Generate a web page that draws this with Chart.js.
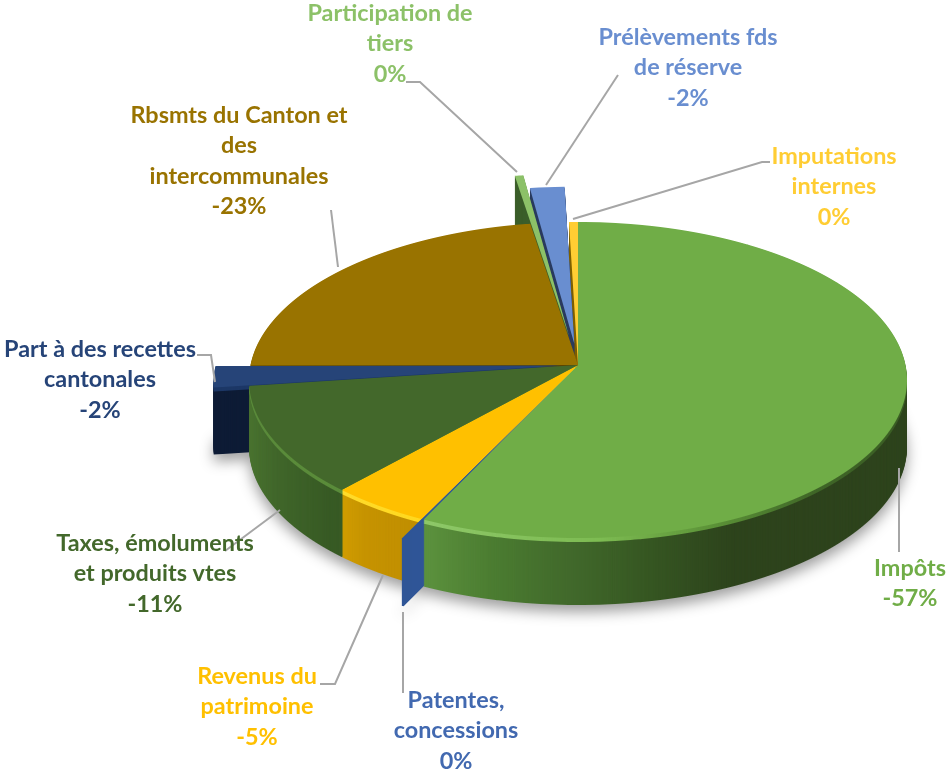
<!DOCTYPE html>
<html lang="fr">
<head>
<meta charset="utf-8">
<style>
	html, body { margin: 0; padding: 0; background: #fff; }
	canvas { display: block; }
</style>
<script src="https://cdn.jsdelivr.net/npm/chart.js@4"></script>
</head>
<body>
<canvas id="chart" width="948" height="769"></canvas>
<script>
const CATEGORIES = ["Impôts", "Patentes, concessions", "Revenus du patrimoine", "Taxes, émoluments et produits vtes", "Part à des recettes cantonales", "Rbsmts du Canton et des intercommunales", "Participation de tiers", "Prélèvements fds de réserve", "Imputations internes"];
const VALUES = [57.1, 0.1, 4.5, 11.2, 2.05, 22.5, 0.4, 1.67, 0.48];
const PERCENT_LABELS = ["-57%", "0%", "-5%", "-11%", "-2%", "-23%", "0%", "-2%", "0%"];
const LABEL_LINES = [
	["Impôts"],
	["Patentes,", "concessions"],
	["Revenus du", "patrimoine"],
	["Taxes, émoluments", "et produits vtes"],
	["Part à des recettes", "cantonales"],
	["Rbsmts du Canton et", "des", "intercommunales"],
	["Participation de", "tiers"],
	["Prélèvements fds", "de réserve"],
	["Imputations", "internes"],
];

// how far each slice's rim is pulled out of the pie, before perspective
const EXPLODE = [0, 38, 0, 0, 35, 0, 126, 91, 0];

const FACE_COLORS = ["#70ad47", "#2f5597", "#ffc000", "#43682b", "#264478", "#997300", "#8cc168", "#698ed0", "#ffcd33"];
const TEXT_COLORS = ["#70ad47", "#4269b0", "#ffc000", "#43682b", "#264478", "#997300", "#8cc168", "#698ed0", "#ffcd33"];
const SIDE_COLORS = [
	[[425, "#5f9640"], [500, "#4b7c31"], [570, "#41692b"], [640, "#365722"], [720, "#2d431c"], [910, "#2d431c"]],
	[[400, "#2f5597"], [430, "#2f5597"]],
	[[340, "#d9a400"], [380, "#c69300"], [430, "#c08e00"]],
	[[250, "#4a7430"], [290, "#40662a"], [345, "#375a24"]],
	[[210, "#0d1b35"], [260, "#0d1b35"]],
	[[250, "#5c4500"], [530, "#5c4500"]],
	[[510, "#3b5e2a"], [530, "#3b5e2a"]],
	[[530, "#2a3b5e"], [570, "#2a3b5e"]],
	[[565, "#7f6000"], [580, "#7f6000"]],
];
const BEVEL_COLORS = [
	[[425, "#8fc96a"], [600, "#7dbb52"], [700, "#5c9338"], [800, "#3f6627"], [910, "#3a5c24"]],
	[[400, "#2f5597"], [430, "#2f5597"]],
	[[340, "#ffdc2e"], [430, "#ffd81f"]],
	[[250, "#5a8a3b"], [345, "#5a8c3a"]],
	[[210, "#1c3766"], [260, "#1c3766"]],
	[[250, "#5c4500"], [530, "#5c4500"]],
	[[510, "#3b5e2a"], [530, "#3b5e2a"]],
	[[530, "#2a3b5e"], [570, "#2a3b5e"]],
	[[565, "#7f6000"], [580, "#7f6000"]],
];

const LABEL_X = [910, 456, 257, 155, 100, 239, 390, 688, 834];
const LABEL_Y = [568, 700, 676, 543, 349, 115, 13, 37, 156];
const LINE_GAP = 30.5;

const LEADERS = [
	[[899, 468], [899, 552]],
	[[403, 612], [403, 693]],
	[[383, 575], [335, 684], [320, 684]],
	[[280, 510], [225, 551]],
	[[197, 355], [211, 355], [215, 382]],
	[[338, 267], [331, 210]],
	[[406, 82], [420, 82], [517, 172]],
	[[546, 185], [618, 75]],
	[[573, 219], [762, 162], [770, 162]],
];

const W = 948;
const H = 769;
const CX = 578;
const CY = 365;
const RADIUS = 329;
const DEPTH = 67;
const BEVEL = 4;

// perspective of the tilted disc: back half 143px tall, front half 173px
const PERSP_U = 0.0949;
const PERSP_B = PERSP_U / RADIUS;
const PERSP_A = 0.476;
const PERSP_C = 0.9955;

const makeFills = (ctx, colors) =>
	colors.map((stops) => {
		const grad = ctx.createLinearGradient(stops[0][0], 0, stops[stops.length - 1][0], 0);
		const from = stops[0][0];
		const span = stops[stops.length - 1][0] - from;
		stops.forEach((s) => grad.addColorStop((s[0] - from) / span, s[1]));
		return grad;
	});

// the arc's own offset option narrows thin slices, so move the element itself
const explodeArcs = (arcs) => {
	arcs.forEach((arc, i) => {
		const mid = (arc.startAngle + arc.endAngle) / 2;
		const shift = EXPLODE[i] / 2;
		arc.x += Math.cos(mid) * shift;
		arc.y += Math.sin(mid) * shift;
		arc.outerRadius += shift;
	});
};

// draws the library's arcs one screen row at a time through the perspective
const projectArcs = (arcs, ctx, fills) => {
	for (let row = 150; row < 640; row++) {
		const v = row + 0.5 - CY;
		const t = v / (PERSP_A + v * PERSP_B);
		const k = 1 - PERSP_B * t;
		const sx = PERSP_C / k;
		const sy = PERSP_A / (k * k);

		ctx.save();
		ctx.setTransform(1, 0, 0, 1, 0, 0);
		ctx.beginPath();
		ctx.rect(0, row, W, 1);
		ctx.clip();
		ctx.setTransform(sx, 0, 0, sy, CX - CX * sx, row + 0.5 - sy * (CY + t));
		arcs.forEach((arc, i) => {
			const saved = arc.options;
			arc.options = { ...saved, backgroundColor: fills ? fills[i] : FACE_COLORS[i], borderWidth: 0 };
			arc.draw(ctx);
			arc.options = saved;
		});
		ctx.restore();
	}
};

const newLayer = () => {
	const layer = document.createElement("canvas");
	layer.width = W;
	layer.height = H;
	return layer;
};

const pie3d = {
	id: "pie3d",
	beforeDatasetsDraw(chart) {
		const ctx = chart.ctx;
		const arcs = chart.getDatasetMeta(0).data;
		explodeArcs(arcs);

		const sideLayer = newLayer();
		const sideCtx = sideLayer.getContext("2d");
		projectArcs(arcs, sideCtx, makeFills(sideCtx, SIDE_COLORS));

		const bevelLayer = newLayer();
		const bevelCtx = bevelLayer.getContext("2d");
		projectArcs(arcs, bevelCtx, makeFills(bevelCtx, BEVEL_COLORS));

		const faceLayer = newLayer();
		projectArcs(arcs, faceLayer.getContext("2d"), null);

		ctx.save();
		ctx.shadowColor = "rgba(0,0,0,0.38)";
		ctx.shadowBlur = 14;
		ctx.shadowOffsetY = 7;
		ctx.drawImage(sideLayer, 0, DEPTH);
		ctx.restore();

		for (let d = DEPTH - 1; d > BEVEL; d--) {
			ctx.drawImage(sideLayer, 0, d);
		}
		for (let d = BEVEL; d > 0; d--) {
			ctx.drawImage(bevelLayer, 0, d);
		}
		ctx.drawImage(faceLayer, 0, 0);
		return false;
	},
	afterDraw(chart) {
		const ctx = chart.ctx;
		ctx.save();
		ctx.strokeStyle = "#a6a6a6";
		ctx.lineWidth = 2;
		LEADERS.forEach((pts) => {
			ctx.beginPath();
			pts.forEach((p, i) => (i ? ctx.lineTo(p[0], p[1]) : ctx.moveTo(p[0], p[1])));
			ctx.stroke();
		});

		ctx.font = "bold 23.4px Lato";
		ctx.textAlign = "center";
		ctx.textBaseline = "middle";
		LABEL_LINES.forEach((lines, i) => {
			ctx.fillStyle = TEXT_COLORS[i];
			lines.concat(PERCENT_LABELS[i]).forEach((line, n) => {
				ctx.fillText(line, LABEL_X[i], LABEL_Y[i] + n * LINE_GAP);
			});
		});
		ctx.restore();
	},
};

new Chart(document.getElementById("chart").getContext("2d"), {
	type: "pie",
	data: {
		labels: CATEGORIES,
		datasets: [
			{
				data: VALUES,
				backgroundColor: FACE_COLORS,
				borderWidth: 0,
			},
		],
	},
	options: {
		responsive: false,
		animation: false,
		radius: RADIUS,
		layout: { padding: { left: CX * 2 - W, right: 0, top: 0, bottom: H - CY * 2 } },
		plugins: { legend: { display: false }, tooltip: { enabled: false } },
	},
	plugins: [pie3d],
});
</script>
</body>
</html>
